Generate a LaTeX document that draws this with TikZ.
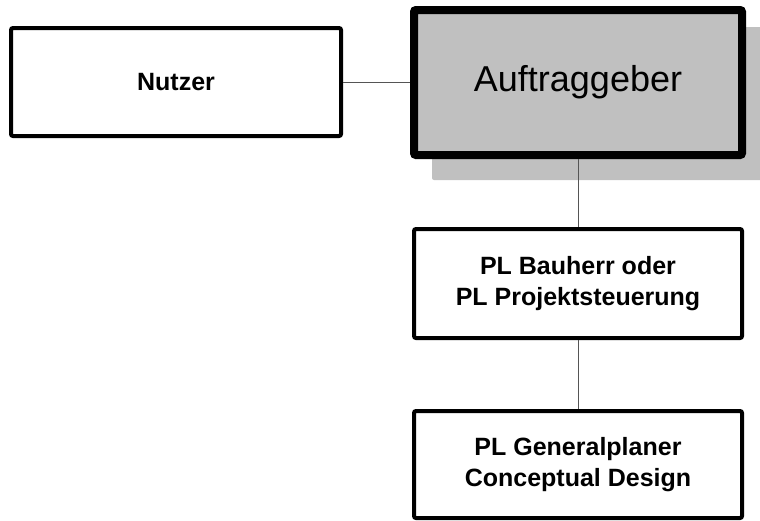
\documentclass[tikz,border=0pt]{standalone}
\usepackage{fontspec}
\setmainfont{Liberation Sans}
\usetikzlibrary{backgrounds}
\definecolor{boxgray}{HTML}{C0C0C0}
\definecolor{linkgray}{HTML}{555555}
\tikzset{
  orgbox/.style={draw=black, line width=4pt, rounded corners=2pt, fill=white, align=center,
    inner sep=0pt, font=\bfseries\fontsize{25}{31}\selectfont},
  mainbox/.style={draw=black, line width=8pt, rounded corners=2pt, fill=boxgray, align=center,
    inner sep=0pt, font=\fontsize{36}{42}\selectfont},
  link/.style={draw=linkgray, line width=1pt},
  shadowbox/.style={fill=boxgray, rounded corners=2pt}
}
\begin{document}
\begin{tikzpicture}[x=1pt,y=-1pt]
\useasboundingbox (0,0) rectangle (760,520);
\node[orgbox, minimum width=330pt, minimum height=108pt] (nutzer) at (176,82) {Nutzer};
\node[mainbox, minimum width=328pt, minimum height=145pt] (auf) at (578,82.5) {Auftraggeber};
\node[orgbox, minimum width=328pt, minimum height=109pt] (bau) at (578,283.5) {PL Bauherr oder\\PL Projektsteuerung};
\node[orgbox, minimum width=328pt, minimum height=107pt] (gen) at (578,464.5) {PL Generalplaner\\Conceptual Design};
\begin{scope}[on background layer]
\fill[shadowbox] ([xshift=22pt,yshift=-21pt]auf.north west) rectangle ([xshift=22pt,yshift=-21pt]auf.south east);
\end{scope}
\draw[link] (nutzer.east) -- (nutzer.east -| auf.west);
\draw[link] (auf.south) -- (bau.north);
\draw[link] (bau.south) -- (gen.north);
\end{tikzpicture}
\end{document}
